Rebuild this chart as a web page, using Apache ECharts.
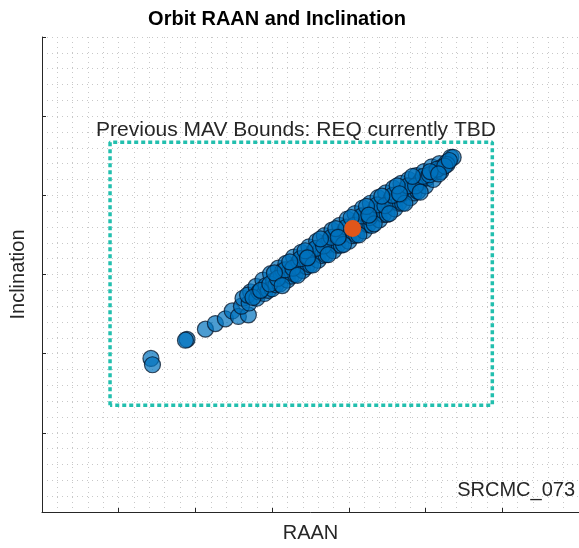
<!DOCTYPE html>
<html>
<head>
<meta charset="utf-8">
<script src="https://cdn.jsdelivr.net/npm/echarts@6/dist/echarts.min.js"></script>
<style>html,body{margin:0;padding:0;background:#fff;}#c{width:579px;height:548px;}</style>
</head>
<body>
<div id="c"></div>
<script>
const titleText = "Orbit RAAN and Inclination";
const xName = "RAAN";
const yName = "Inclination";
const boundsLabel = "Previous MAV Bounds: REQ currently TBD";
const caseLabel = "SRCMC_073";

const xRange = [0, 7];
const yRange = [0, 6];

const boundsX = [0.887, 5.87];
const boundsY = [1.35, 4.67];

const nominalPoint = [[4.05, 3.58]];

const dispersedPoints = [
  [1.42,1.94],[1.44,1.86],[1.89,2.18],[1.87,2.17],[2.13,2.31],[2.26,2.38],[2.39,2.44],[2.48,2.54],[2.56,2.47],[2.69,2.49],
  [2.60,2.60],[2.62,2.70],[2.70,2.64],[2.72,2.78],[2.68,2.74],[2.80,2.70],[2.79,2.85],[2.83,2.78],
  [2.90,2.76],[2.88,2.93],[2.92,2.86],[2.95,2.80],[3.00,2.82],[2.98,3.01],[3.02,2.92],[3.05,2.87],
  [3.10,2.88],[3.08,3.08],[3.12,2.98],[3.14,3.05],[3.20,2.93],[3.18,3.14],[3.22,3.03],[3.25,2.98],
  [3.30,3.00],[3.28,3.22],[3.32,3.10],[3.35,3.16],[3.40,3.05],[3.38,3.28],[3.42,3.17],[3.45,3.10],
  [3.50,3.12],[3.48,3.35],[3.52,3.24],[3.55,3.30],[3.60,3.18],[3.58,3.42],[3.62,3.29],[3.65,3.24],
  [3.70,3.25],[3.68,3.49],[3.72,3.37],[3.75,3.44],[3.80,3.30],[3.78,3.56],[3.82,3.43],[3.85,3.37],
  [3.90,3.37],[3.88,3.62],[3.92,3.50],[3.95,3.56],[4.00,3.42],[3.98,3.70],[4.02,3.55],[4.05,3.49],
  [4.10,3.50],[4.08,3.77],[4.12,3.63],[4.15,3.70],[4.20,3.55],[4.18,3.84],[4.22,3.69],[4.25,3.63],
  [4.30,3.62],[4.28,3.90],[4.32,3.77],[4.35,3.83],[4.40,3.69],[4.38,3.97],[4.42,3.82],[4.45,3.76],
  [4.50,3.76],[4.48,4.03],[4.52,3.90],[4.55,3.96],[4.60,3.83],[4.58,4.09],[4.62,3.95],[4.65,3.90],
  [4.70,3.90],[4.68,4.15],[4.72,4.03],[4.75,4.08],[4.80,3.97],[4.78,4.20],[4.82,4.08],[4.85,4.03],
  [4.90,4.05],[4.88,4.25],[4.92,4.16],[4.95,4.20],[5.00,4.12],[4.98,4.30],[5.02,4.22],
  [5.10,4.20],[5.08,4.36],[5.12,4.29],[5.20,4.30],[5.18,4.40],[5.22,4.36],[5.28,4.42],[5.33,4.48],[5.36,4.48],[5.28,4.39],
  [2.75,2.71],[2.85,2.80],[2.97,2.88],[3.07,2.95],[3.17,3.06],[3.27,3.08],[3.37,3.20],[3.47,3.22],
  [3.57,3.33],[3.67,3.36],[3.77,3.47],[3.87,3.48],[3.97,3.60],[4.07,3.62],[4.17,3.74],[4.27,3.72],
  [4.37,3.88],[4.47,3.87],[4.57,4.00],[4.67,4.01],[4.77,4.12],[4.87,4.12],[4.97,4.24],[5.05,4.26],[5.15,4.33],
  [3.03,3.02],[3.23,3.16],[3.43,3.30],[3.63,3.45],[3.83,3.58],[4.03,3.72],[4.23,3.86],[4.43,3.99],[4.63,4.12],[4.83,4.24],
  [3.13,2.86],[3.33,2.99],[3.53,3.12],[3.73,3.25],[3.93,3.38],[4.13,3.50],[4.33,3.64],[4.53,3.77],[4.73,3.90],[4.93,4.04],
  [3.46,3.21],[3.86,3.47],[4.26,3.75],[4.66,4.02],[5.06,4.30],[5.25,4.37],[5.31,4.44],[5.17,4.27]
];

const boxData = [
  [boundsX[0], boundsY[0]], [boundsX[0], boundsY[1]], [boundsX[1], boundsY[1]],
  [boundsX[1], boundsY[0]], [boundsX[0], boundsY[0]]
];

const chart = echarts.init(document.getElementById('c'), null, {renderer: 'canvas'});
const FONT = '"Liberation Sans", Arial, sans-serif';
const gridDots = {show: true, lineStyle: {color: '#c8c8c8', type: [1, 4], width: 1}};

chart.setOption({
  animation: false,
  backgroundColor: '#ffffff',
  grid: {left: 42, top: 37, right: 0, bottom: 34, containLabel: false},
  xAxis: {
    type: 'value', min: xRange[0], max: xRange[1], interval: 1,
    name: xName, nameLocation: 'middle', nameGap: 11,
    nameTextStyle: {fontFamily: FONT, fontSize: 20, color: '#262626'},
    axisLine: {show: true, onZero: false, lineStyle: {color: '#262626', width: 1}},
    axisTick: {show: true, inside: true, length: 4, lineStyle: {color: '#262626'}},
    axisLabel: {show: false},
    splitLine: gridDots,
    minorTick: {show: false, splitNumber: 5},
    minorSplitLine: gridDots
  },
  yAxis: {
    type: 'value', min: yRange[0], max: yRange[1], interval: 1,
    name: yName, nameLocation: 'middle', nameGap: 14, nameRotate: 90,
    nameTextStyle: {fontFamily: FONT, fontSize: 20, color: '#262626'},
    axisLine: {show: true, onZero: false, lineStyle: {color: '#262626', width: 1}},
    axisTick: {show: true, inside: true, length: 4, lineStyle: {color: '#262626'}},
    axisLabel: {show: false},
    splitLine: gridDots,
    minorTick: {show: false, splitNumber: 5},
    minorSplitLine: gridDots
  },
  graphic: [
    {type: 'text', x: 277, y: 19, style: {text: titleText, font: 'bold 20px ' + FONT, fill: '#000', textAlign: 'center', textVerticalAlign: 'middle'}},
    {type: 'text', x: 296, y: 130, z: 10, style: {text: boundsLabel, font: '21px ' + FONT, fill: '#262626', textAlign: 'center', textVerticalAlign: 'middle'}},
    {type: 'text', x: 575, y: 490, z: 10, style: {text: caseLabel, font: '20px ' + FONT, fill: '#262626', textAlign: 'right', textVerticalAlign: 'middle'}}
  ],
  series: [
    {
      type: 'line', data: boxData, symbol: 'none', silent: true, z: 3,
      lineStyle: {color: '#22bfae', width: 3.5, type: [4, 3]}
    },
    {
      type: 'scatter', data: dispersedPoints, symbolSize: 16, z: 4,
      itemStyle: {color: 'rgba(0,114,189,0.7)', opacity: 1, borderColor: 'rgba(5,20,40,0.75)', borderWidth: 1.2}
    },
    {
      type: 'scatter', data: nominalPoint, symbolSize: 17, z: 5,
      itemStyle: {color: '#e0561a', opacity: 1, borderWidth: 0}
    }
  ]
});
</script>
</body>
</html>
